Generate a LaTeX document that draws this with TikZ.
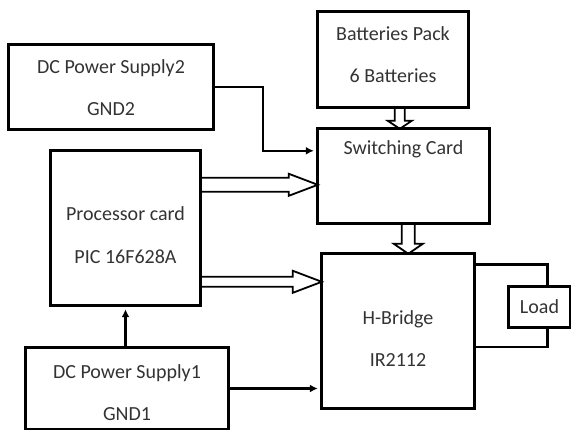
\documentclass[tikz,border=0pt]{standalone}
\usepackage{fontspec}
\setmainfont{Carlito}
\usetikzlibrary{calc,arrows.meta}

\tikzset{
	blk/.style={inner sep=0pt},
	frame/.style={line width=2.8pt},
	txt/.style={align=center, inner sep=0pt, font=\fontsize{20}{24}\selectfont, text=black!80},
	arr/.style={line width=2.5pt, -{Latex[length=8pt,width=8pt]}, shorten >=4pt},
	wire/.style={line width=2.6pt},
	% hollow arrow: head length, shaft half width, head half width
	fat/.style n args={3}{line width=1.8pt, line join=miter, to path={
		($(\tikztotarget)!#1!(\tikztostart)$) coordinate (fh)
		($(\tikztostart)!#2!90:(\tikztotarget)$) -- ($(fh)!#2!90:(\tikztotarget)$)
		-- ($(fh)!#3!90:(\tikztotarget)$) -- (\tikztotarget)
		-- ($(fh)!#3!-90:(\tikztotarget)$) -- ($(fh)!#2!-90:(\tikztotarget)$)
		-- ($(\tikztostart)!#2!-90:(\tikztotarget)$)}},
}

\begin{document}
\begin{tikzpicture}[x=1pt, y=-1pt]
	\useasboundingbox (0,0) rectangle (571,430);
	
	% boxes
	\node[blk, minimum width=204pt, minimum height=84pt] (dc2) at (111,87) {};
	\node[blk, minimum width=150pt, minimum height=95pt] (bat) at (393,59.5) {};
	\node[blk, minimum width=171pt, minimum height=94pt] (sw) at (403.5,176) {};
	\node[blk, minimum width=149pt, minimum height=154pt] (proc) at (125.5,228) {};
	\node[blk, minimum width=152pt, minimum height=154pt] (hb) at (398,331) {};
	\node[blk, minimum width=202pt, minimum height=81pt] (dc1) at (127,388.5) {};
	\node[blk, minimum width=61pt, minimum height=40pt] (load) at (539.5,307) {};
	\foreach \b in {dc2,bat,sw,proc,hb,dc1,load}
		\draw[frame] (\b.north west) rectangle (\b.south east);
	
	% texts
	\node[txt] (dc2t) at ($(dc2)+(0,1)$) {DC Power Supply2\\[18pt]GND2};
	\node[txt] (batt) at ($(bat)+(0,-5)$) {Batteries Pack\\[18pt]6 Batteries};
	\node[txt] (swt) at ($(sw.north)+(0,20.5)$) {Switching Card};
	\node[txt] (proct) at ($(proc)+(0,7)$) {Processor card\\[19pt]PIC 16F628A};
	\node[txt] (hbt) at ($(hb)+(0,8)$) {H-Bridge\\[18pt]IR2112};
	\node[txt] (dc1t) at ($(dc1)+(0,4.5)$) {DC Power Supply1\\[18pt]GND1};
	\node[txt] (loadt) at (load) {Load};
	
	% thin connectors
	\coordinate (sw2) at ($(sw.north west)+(0,22)$);
	\draw[arr] (dc2.east) -- ++(50,0) |- (sw2);
	\draw[arr] (proc.south |- dc1.north) -- (proc.south);
	\draw[arr] (dc1.east) -- (dc1.east -| hb.west);
	
	% load wires
	\coordinate (hb1) at ($(hb.north east)+(0,11)$);
	\coordinate (hb2) at ($(hb.south east)+(0,-61)$);
	\draw[wire] (hb1) -| ($(load.north)+(8,0)$);
	\draw[wire] (hb2) -| ($(load.south)+(8,0)$);
	
	% hollow arrows
	\coordinate (p1) at ($(proc.north east)+(0,34)$);
	\coordinate (p2) at ($(proc.north east)+(0,131)$);
	\draw[fat={29pt}{7pt}{11pt}] (p1) to (p1 -| sw.west);
	\draw[fat={29pt}{5pt}{11pt}] (p2) to (p2 -| hb.west);
	\coordinate (b1) at ($(bat.south west)+(82,0)$);
	\coordinate (s1) at ($(sw.south west)+(90.5,0)$);
	\draw[fat={8pt}{5pt}{12pt}] (b1) to (b1 |- sw.north);
	\draw[fat={10pt}{6.5pt}{14.5pt}] (s1) to (s1 |- hb.north);
\end{tikzpicture}
\end{document}
